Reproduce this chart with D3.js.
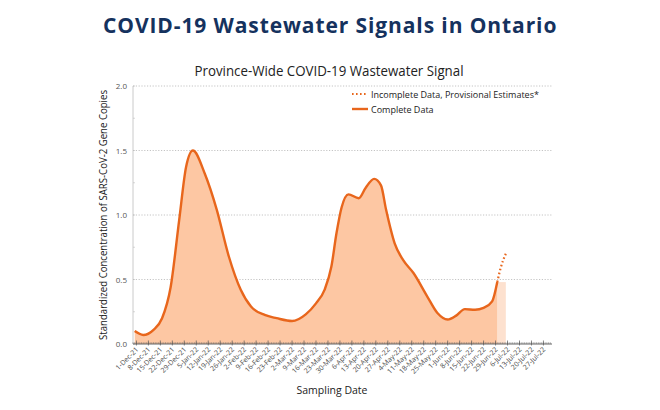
<!DOCTYPE html>
<html>
<head>
<meta charset="utf-8">
<script src="https://cdn.jsdelivr.net/npm/d3@7"></script>
<style>
  body { margin: 0; background: #fff; }
  svg { display: block; }
</style>
</head>
<body>
<svg id="chart" width="660" height="410"></svg>
<script>
// values
const completeDates = ['2021-11-30','2021-12-05','2021-12-11','2021-12-16','2021-12-21','2021-12-26','2021-12-30',
  '2022-01-03','2022-01-10','2022-01-17','2022-01-24','2022-01-31','2022-02-06','2022-02-14','2022-02-21',
  '2022-03-02','2022-03-10','2022-03-16','2022-03-21','2022-03-25','2022-03-28','2022-03-31','2022-04-04',
  '2022-04-10','2022-04-14','2022-04-19','2022-04-23','2022-04-26','2022-05-01','2022-05-06','2022-05-12',
  '2022-05-20','2022-05-26','2022-06-01','2022-06-06','2022-06-11','2022-06-17','2022-06-22','2022-06-27','2022-06-30'];
const completeValues = [0.10,0.07,0.11,0.20,0.44,0.96,1.37,
  1.50,1.32,1.04,0.68,0.42,0.29,0.225,0.20,
  0.178,0.23,0.315,0.42,0.60,0.86,1.06,1.16,
  1.13,1.21,1.28,1.23,1.04,0.78,0.65,0.55,
  0.37,0.24,0.19,0.22,0.27,0.265,0.28,0.33,0.48];
const provisionalDates = ['2022-06-30','2022-07-02','2022-07-05'];
const provisionalValues = [0.48,0.59,0.70];

const tickLabels = ['1-Dec-21','8-Dec-21','15-Dec-21','22-Dec-21','29-Dec-21','5-Jan-22','12-Jan-22','19-Jan-22',
  '26-Jan-22','2-Feb-22','9-Feb-22','16-Feb-22','23-Feb-22','2-Mar-22','9-Mar-22','16-Mar-22','23-Mar-22',
  '30-Mar-22','6-Apr-22','13-Apr-22','20-Apr-22','27-Apr-22','4-May-22','11-May-22','18-May-22','25-May-22',
  '1-Jun-22','8-Jun-22','15-Jun-22','22-Jun-22','29-Jun-22','6-Jul-22','13-Jul-22','20-Jul-22','27-Jul-22'];
const yTicks = [0, 0.5, 1.0, 1.5, 2.0];

const parseIso = d3.timeParse('%Y-%m-%d');
const parseLabel = d3.timeParse('%d-%b-%y');

const complete = completeDates.map((d, i) => ({ date: parseIso(d), value: completeValues[i] }));
const provisional = provisionalDates.map((d, i) => ({ date: parseIso(d), value: provisionalValues[i] }));

const svg = d3.select('#chart');
const plotLeft = 133, plotRight = 552, plotTop = 86, plotBottom = 344;
const orange = '#e8661c';
const textFont = '"Open Sans", "Noto Sans", sans-serif';

svg.append('rect').attr('width', 660).attr('height', 410).attr('fill', '#fff');

const x = d3.scaleTime()
  .domain([parseIso('2021-11-29'), parseIso('2022-08-01')])
  .range([plotLeft, plotRight]);
const y = d3.scaleLinear().domain([0, 2]).range([plotBottom, plotTop]);

// titles
svg.append('text')
  .attr('x', 330).attr('y', 33)
  .attr('text-anchor', 'middle')
  .attr('font-family', '"Open Sans", sans-serif')
  .attr('font-weight', 700)
  .attr('font-size', 21)
  .attr('letter-spacing', 0.6)
  .attr('textLength', 454).attr('lengthAdjust', 'spacing')
  .attr('fill', '#15325e')
  .text('COVID-19 Wastewater Signals in Ontario');

svg.append('text')
  .attr('x', 329).attr('y', 76)
  .attr('text-anchor', 'middle')
  .attr('font-family', textFont)
  .attr('font-size', 14)
  .attr('textLength', 269).attr('lengthAdjust', 'spacingAndGlyphs')
  .attr('fill', '#222')
  .text('Province-Wide COVID-19 Wastewater Signal');

// gridlines
svg.append('g').selectAll('line')
  .data(yTicks.filter(v => v > 0))
  .join('line')
  .attr('x1', plotLeft).attr('x2', plotRight)
  .attr('y1', d => y(d)).attr('y2', d => y(d))
  .attr('stroke', '#b5b5b5').attr('stroke-width', 0.8)
  .attr('stroke-dasharray', '1.2,1.6');

// areas
const area = d3.area()
  .x(d => x(d.date)).y0(y(0)).y1(d => y(d.value))
  .curve(d3.curveMonotoneX);
const lastComplete = completeValues[completeValues.length - 1];
const provArea = d3.area()
  .x(d => x(d.date)).y0(y(0)).y1(y(lastComplete));

svg.append('path').datum(provisional).attr('d', provArea).attr('fill', '#fde1cf');
svg.append('path').datum(complete).attr('d', area).attr('fill', '#fdc7a3');

// y axis
const yAxis = svg.append('g');
yAxis.append('line')
  .attr('x1', plotLeft).attr('x2', plotLeft).attr('y1', plotTop).attr('y2', plotBottom)
  .attr('stroke', '#bdbdbd').attr('stroke-width', 0.8);
yAxis.selectAll('line.minor')
  .data(d3.range(0, 2.01, 0.25))
  .join('line').attr('class', 'minor')
  .attr('x1', plotLeft).attr('x2', plotLeft + 2)
  .attr('y1', d => y(d)).attr('y2', d => y(d))
  .attr('stroke', '#bdbdbd').attr('stroke-width', 0.6);
yAxis.selectAll('text')
  .data(yTicks)
  .join('text')
  .attr('x', plotLeft - 6).attr('y', d => y(d) + 3)
  .attr('text-anchor', 'end')
  .attr('font-family', textFont).attr('font-size', 8)
  .attr('fill', '#555')
  .text(d3.format('.1f'));

// x axis
const xAxis = svg.append('g');
xAxis.append('line')
  .attr('x1', plotLeft).attr('x2', plotRight).attr('y1', plotBottom).attr('y2', plotBottom)
  .attr('stroke', '#555').attr('stroke-width', 0.9);
xAxis.selectAll('line.minor')
  .data(d3.timeDay.range(x.domain()[0], x.domain()[1]))
  .join('line').attr('class', 'minor')
  .attr('x1', d => x(d)).attr('x2', d => x(d))
  .attr('y1', plotBottom - 1.8).attr('y2', plotBottom)
  .attr('stroke', '#666').attr('stroke-width', 0.5);
xAxis.selectAll('line.major')
  .data(tickLabels)
  .join('line').attr('class', 'major')
  .attr('x1', d => x(parseLabel(d))).attr('x2', d => x(parseLabel(d)))
  .attr('y1', plotBottom - 3.5).attr('y2', plotBottom + 1.5)
  .attr('stroke', '#555').attr('stroke-width', 0.7);
xAxis.selectAll('text')
  .data(tickLabels)
  .join('text')
  .attr('transform', d => `translate(${x(parseLabel(d)) + 2.5},${plotBottom + 6}) rotate(-45)`)
  .attr('text-anchor', 'end')
  .attr('font-family', textFont).attr('font-size', 7)
  .attr('fill', '#4a4a4a')
  .text(d => d);

// lines
const line = d3.line()
  .x(d => x(d.date)).y(d => y(d.value))
  .curve(d3.curveMonotoneX);
svg.append('path').datum(provisional).attr('d', line)
  .attr('fill', 'none').attr('stroke', orange).attr('stroke-width', 2.2)
  .attr('stroke-dasharray', '1.6,2.4');
svg.append('path').datum(complete).attr('d', line)
  .attr('fill', 'none').attr('stroke', orange).attr('stroke-width', 2.4)
  .attr('stroke-linejoin', 'round');

// axis titles
svg.append('text')
  .attr('transform', `translate(107,${(plotTop + plotBottom) / 2}) rotate(-90)`)
  .attr('text-anchor', 'middle')
  .attr('font-family', textFont).attr('font-size', 10)
  .attr('textLength', 250).attr('lengthAdjust', 'spacingAndGlyphs')
  .attr('fill', '#222')
  .text('Standardized Concentration of SARS-CoV-2 Gene Copies');

svg.append('text')
  .attr('x', 332).attr('y', 394)
  .attr('text-anchor', 'middle')
  .attr('font-family', textFont).attr('font-size', 10.5)
  .attr('fill', '#222')
  .text('Sampling Date');

// legend
const legend = svg.append('g');
legend.append('line')
  .attr('x1', 352).attr('x2', 368).attr('y1', 94).attr('y2', 94)
  .attr('stroke', orange).attr('stroke-width', 2)
  .attr('stroke-dasharray', '1.6,2.4');
legend.append('line')
  .attr('x1', 352).attr('x2', 368).attr('y1', 109).attr('y2', 109)
  .attr('stroke', orange).attr('stroke-width', 2.4);
legend.append('text')
  .attr('x', 371).attr('y', 97.5)
  .attr('font-family', textFont).attr('font-size', 9)
  .attr('fill', '#222')
  .text('Incomplete Data, Provisional Estimates*');
legend.append('text')
  .attr('x', 371).attr('y', 112.5)
  .attr('font-family', textFont).attr('font-size', 9)
  .attr('fill', '#222')
  .text('Complete Data');
</script>
</body>
</html>
